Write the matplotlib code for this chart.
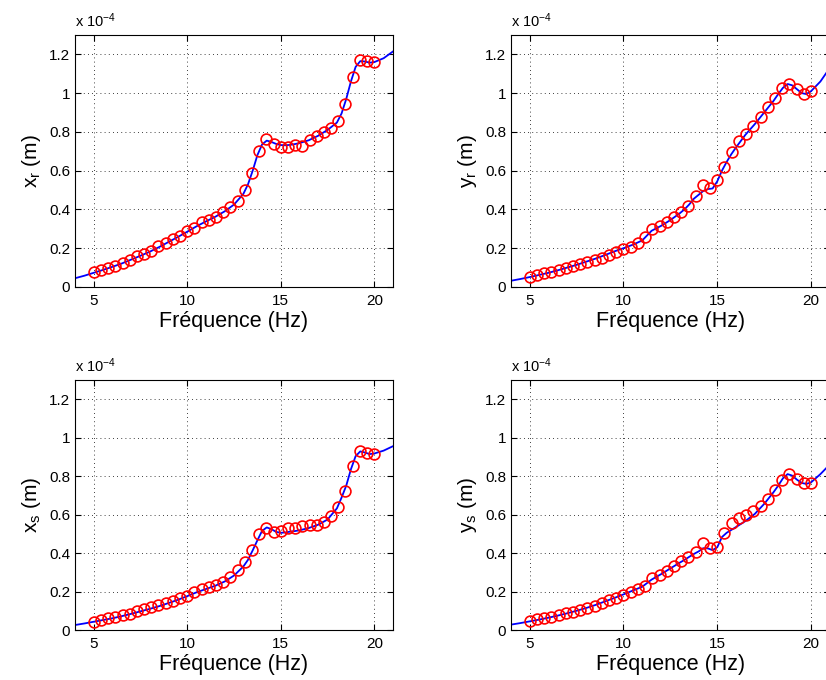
import numpy as np
import matplotlib
matplotlib.use('Agg')
import matplotlib.pyplot as plt
from matplotlib.ticker import FormatStrFormatter

plt.rcParams['font.family'] = ['Liberation Sans', 'DejaVu Sans']
plt.rcParams['mathtext.default'] = 'regular'

##################### DATA (amplitudes in units of 1e-4 m) ########################
# measured frequencies (Hz)
freq = [5.00, 5.38, 5.77, 6.15, 6.54, 6.92, 7.31, 7.69, 8.08, 8.46,
        8.85, 9.23, 9.62, 10.00, 10.38, 10.77, 11.15, 11.54, 11.92, 12.31,
        12.69, 13.08, 13.46, 13.85, 14.23, 14.62, 15.00, 15.38, 15.77, 16.15,
        16.54, 16.92, 17.31, 17.69, 18.08, 18.46, 18.85, 19.23, 19.62, 20.00]

xr_meas = [0.076, 0.088, 0.099, 0.110, 0.124, 0.141, 0.160, 0.170, 0.187, 0.210,
           0.226, 0.245, 0.265, 0.290, 0.305, 0.333, 0.345, 0.363, 0.386, 0.413,
           0.445, 0.500, 0.590, 0.700, 0.765, 0.738, 0.720, 0.722, 0.730, 0.727,
           0.757, 0.777, 0.798, 0.822, 0.856, 0.946, 1.085, 1.170, 1.166, 1.163]

yr_meas = [0.052, 0.062, 0.070, 0.078, 0.088, 0.098, 0.107, 0.117, 0.128, 0.140,
           0.151, 0.166, 0.180, 0.194, 0.206, 0.227, 0.258, 0.298, 0.315, 0.334,
           0.360, 0.389, 0.418, 0.471, 0.524, 0.510, 0.550, 0.617, 0.695, 0.752,
           0.790, 0.830, 0.877, 0.927, 0.977, 1.028, 1.049, 1.020, 0.997, 1.011]

xs_meas = [0.044, 0.053, 0.060, 0.068, 0.077, 0.085, 0.099, 0.107, 0.117, 0.128,
           0.141, 0.152, 0.165, 0.178, 0.197, 0.215, 0.221, 0.232, 0.251, 0.278,
           0.310, 0.351, 0.415, 0.501, 0.530, 0.507, 0.515, 0.530, 0.530, 0.540,
           0.543, 0.547, 0.561, 0.594, 0.641, 0.721, 0.852, 0.931, 0.921, 0.914]

ys_meas = [0.048, 0.056, 0.063, 0.070, 0.078, 0.087, 0.095, 0.105, 0.116, 0.127,
           0.141, 0.154, 0.168, 0.181, 0.195, 0.211, 0.230, 0.268, 0.285, 0.306,
           0.331, 0.356, 0.377, 0.406, 0.453, 0.425, 0.432, 0.505, 0.558, 0.580,
           0.595, 0.616, 0.646, 0.683, 0.727, 0.779, 0.813, 0.787, 0.763, 0.764]

# model curve frequencies (Hz)
freq_fit = [4, 4.5, 5, 5.5, 6, 6.5, 7, 7.5, 8, 8.5, 9, 9.5, 10, 10.5, 11, 11.5, 12, 12.5,
            13, 13.25, 13.5, 13.75, 14, 14.25, 14.5, 14.75, 15, 15.25, 15.5, 15.75, 16,
            16.5, 17, 17.5, 18,
            18.25, 18.5, 18.75, 19, 19.25, 19.5, 19.75, 20,
            20.5, 21]

xr_fit = [0.045, 0.058, 0.073, 0.088, 0.104, 0.121, 0.141, 0.161, 0.182, 0.206, 0.232, 0.258,
          0.285, 0.313, 0.338, 0.362, 0.390, 0.425,
          0.480, 0.530, 0.600, 0.680, 0.735, 0.755, 0.748, 0.738, 0.732, 0.731, 0.733, 0.737, 0.742,
          0.757, 0.780, 0.810, 0.848,
          0.895, 0.970, 1.060, 1.135, 1.165, 1.163, 1.157, 1.160,
          1.180, 1.215]

yr_fit = [0.032, 0.041, 0.051, 0.062, 0.073, 0.086, 0.100, 0.114, 0.130, 0.146, 0.164, 0.183,
          0.200, 0.218, 0.240, 0.290, 0.315, 0.345,
          0.380, 0.400, 0.425, 0.455, 0.475, 0.495, 0.505, 0.508, 0.545, 0.600, 0.645, 0.685, 0.720,
          0.785, 0.840, 0.900, 0.960,
          0.995, 1.027, 1.047, 1.040, 1.020, 1.000, 0.995, 1.010,
          1.060, 1.130]

xs_fit = [0.026, 0.034, 0.043, 0.052, 0.061, 0.072, 0.084, 0.097, 0.110, 0.124, 0.140, 0.157,
          0.176, 0.196, 0.213, 0.230, 0.252, 0.283,
          0.330, 0.365, 0.414, 0.466, 0.515, 0.533, 0.524, 0.510, 0.505, 0.507, 0.511, 0.514, 0.518,
          0.530, 0.547, 0.574, 0.632,
          0.688, 0.750, 0.835, 0.903, 0.928, 0.922, 0.914, 0.917,
          0.932, 0.955]

ys_fit = [0.028, 0.036, 0.045, 0.054, 0.064, 0.075, 0.087, 0.100, 0.114, 0.130, 0.148, 0.166,
          0.185, 0.205, 0.225, 0.262, 0.290, 0.320,
          0.350, 0.364, 0.380, 0.395, 0.408, 0.425, 0.424, 0.415, 0.430, 0.483, 0.505, 0.520, 0.535,
          0.566, 0.603, 0.655, 0.716,
          0.750, 0.788, 0.810, 0.802, 0.781, 0.764, 0.759, 0.767,
          0.810, 0.860]

panels = [
    ([0.0908, 0.578, 0.385, 0.3706], xr_meas, xr_fit, 'x$_r$ (m)'),
    ([0.6186, 0.578, 0.386, 0.3706], yr_meas, yr_fit, 'y$_r$ (m)'),
    ([0.0908, 0.0735, 0.385, 0.368], xs_meas, xs_fit, 'x$_s$ (m)'),
    ([0.6186, 0.0735, 0.386, 0.368], ys_meas, ys_fit, 'y$_s$ (m)'),
]

fig = plt.figure(figsize=(8.26, 6.8), dpi=100)

for rect, meas, fit, ylab in panels:
    ax = fig.add_axes(rect)
    ax.plot(freq_fit, fit, color='blue', lw=1.3, zorder=2)
    ax.plot(freq, meas, 'o', mfc='none', mec='red', ms=7.8, mew=1.2, zorder=3)
    ax.set_xlim(4, 21)
    ax.set_ylim(0, 1.3)
    ax.set_xticks([5, 10, 15, 20])
    ax.set_yticks([0, 0.2, 0.4, 0.6, 0.8, 1.0, 1.2])
    ax.yaxis.set_major_formatter(FormatStrFormatter('%g'))
    ax.grid(True, color='black', linestyle=(0, (1, 4)), lw=0.6)
    ax.tick_params(direction='in', top=True, right=True, length=4, labelsize=11)
    ax.tick_params(axis='x', pad=5)
    for sp in ax.spines.values():
        sp.set_linewidth(0.8)
    ax.set_xlabel('Fréquence (Hz)', fontsize=15.5, labelpad=2)
    ax.set_ylabel(ylab, fontsize=15, labelpad=4)
    ax.text(0.0, 1.02, 'x 10$^{-4}$', transform=ax.transAxes, fontsize=10.5,
            ha='left', va='bottom')

fig.savefig('out.png', dpi=100)
